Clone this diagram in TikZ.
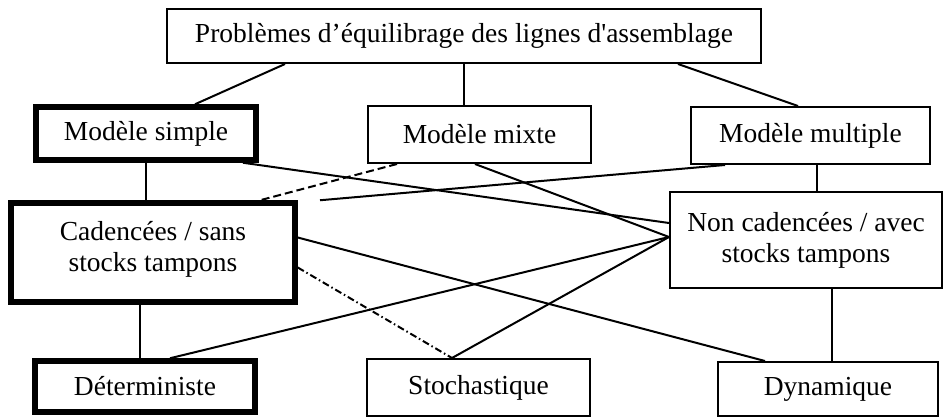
\documentclass[tikz,border=0pt]{standalone}
\usepackage{fontspec}
\setmainfont{Liberation Serif}
\usetikzlibrary{positioning}

\begin{document}
\begin{tikzpicture}[x=1pt, y=-1pt, b/.style={draw, line width=2pt, inner sep=0pt, align=center, font=\fontsize{27.5}{31}\selectfont}, k/.style={line width=5.5pt}, l/.style={line width=2pt}, dsh/.style={dash pattern=on 8pt off 4pt}, dd/.style={dash pattern=on 7pt off 3pt on 1.5pt off 3pt}]
		\useasboundingbox (0,0) rectangle (945,418);
		\node[b, minimum width=594pt, minimum height=54pt] (P) at (464,36) {Problèmes d’équilibrage des lignes d\textquotesingle assemblage};
		\node[b, k, minimum width=220pt, minimum height=53pt] (S) at (146,133.5) {Modèle simple};
		\node[b, minimum width=223pt, minimum height=57pt] (X) at (479.5,134.5) {Modèle mixte};
		\node[b, minimum width=239pt, minimum height=57pt] (M) at (810.5,135.5) {Modèle multiple};
		\node[b, k, minimum width=284pt, minimum height=99pt] (C) at (153,252.5) {Cadencées / sans\\stocks tampons\\[-19pt]};
		\node[b, minimum width=272pt, minimum height=96pt] (N) at (806,240) {Non cadencées / avec\\stocks tampons\\[-25pt]};
		\node[b, k, minimum width=220pt, minimum height=51pt] (D) at (145,386.5) {Déterministe};
		\node[b, minimum width=223pt, minimum height=57pt] (T) at (478.5,387.5) {Stochastique};
		\node[b, minimum width=220pt, minimum height=54pt] (Y) at (828,389) {Dynamique};

		\path[l] ([xshift=-179pt]P.south) edge ([xshift=49pt]S.north);
		\path[l] (P.south) edge (P.south |- X.north);
		\path[l] ([xshift=214pt]P.south) edge ([xshift=-12.5pt]M.north);
		\path[l] (S.south) edge (S.south |- C.north);
		\path[l, dsh] ([xshift=-82.5pt]X.south) edge ([xshift=107pt]C.north);
		\path[l] ([xshift=97pt]S.south) edge ([yshift=17pt]N.west);
		\path[l] ([xshift=-4.5pt]X.south) edge ([yshift=3pt]N.west);
		\path[l] ([xshift=-85.5pt]M.south) edge ([xshift=167pt]C.north);
		\path[l] ([xshift=6.5pt]M.south) edge ([xshift=11pt]N.north);
		\path[l] ([yshift=15pt]C.east) edge ([xshift=-63pt]Y.north);
		\path[l, dd] ([yshift=-15pt]C.east) edge ([xshift=-26.5pt]T.north);
		\path[l] ([xshift=-13pt]C.south) edge ([xshift=-5pt]D.north);
		\path[l] ([xshift=25pt]D.north) edge ([yshift=3pt]N.west);
		\path[l] ([xshift=-26.5pt]T.north) edge ([yshift=3pt]N.west);
		\path[l] ([xshift=26pt]N.south) edge ([xshift=4pt]Y.north);
	\end{tikzpicture}
\end{document}
